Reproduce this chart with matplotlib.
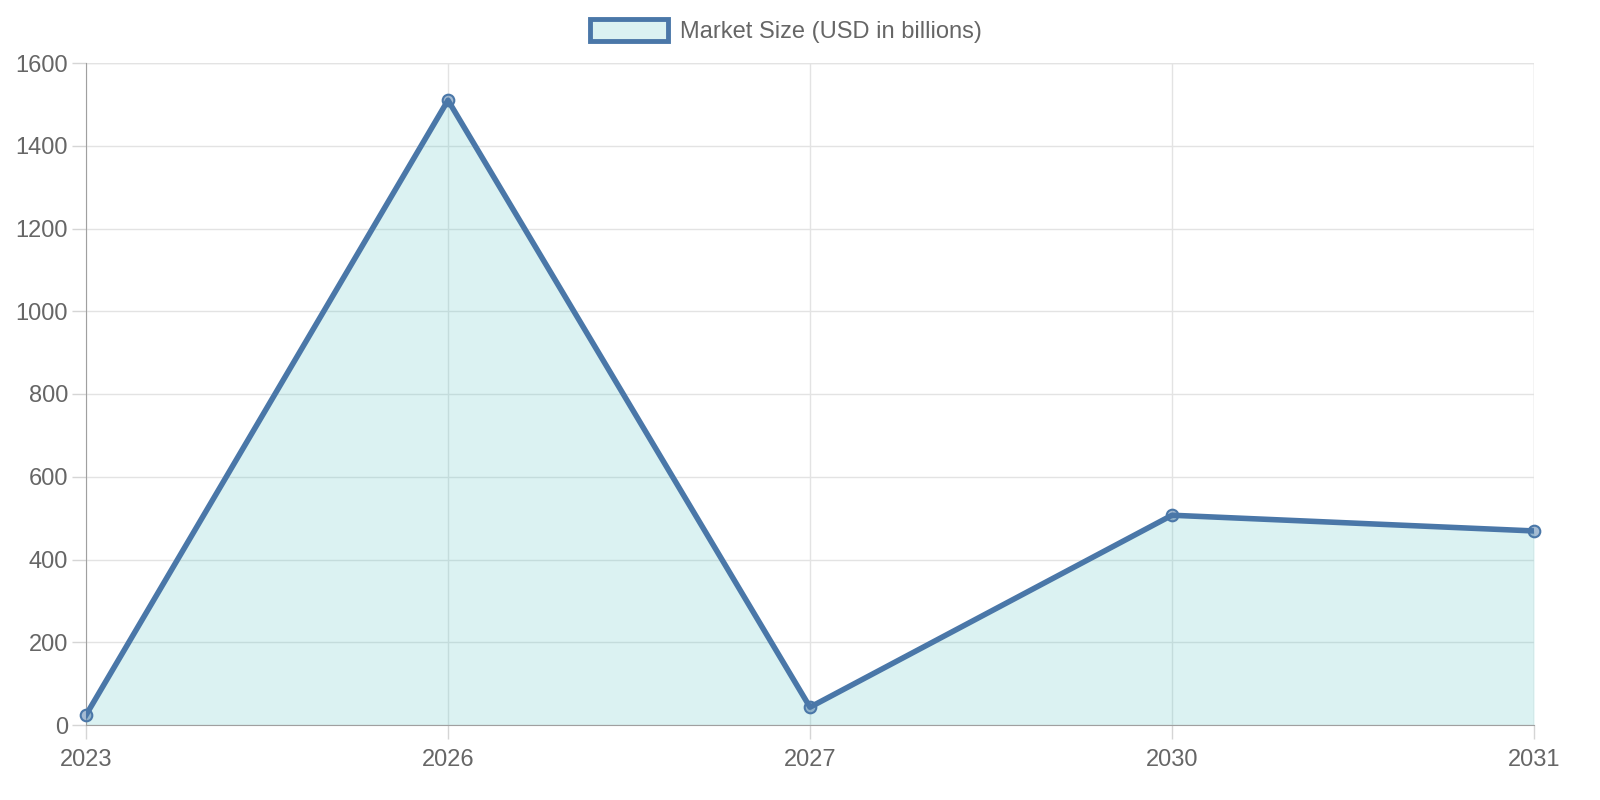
import numpy as np
import matplotlib.pyplot as plt
from matplotlib.patches import Patch

years = ['2023', '2026', '2027', '2030', '2031']
market_size = [24, 1510, 43, 507, 469]

line_col = '#4a77a8'
fill_col = (75/255, 192/255, 192/255, 0.2)
text_col = '#666666'
grid_col = '#e3e3e3'

plt.rcParams['font.family'] = ['Liberation Sans', 'DejaVu Sans']

fig = plt.figure(figsize=(16, 8), dpi=100)
ax = fig.add_axes([0.05375, 0.09375, 0.905, 0.8275])

x = np.arange(len(years))
ax.fill_between(x, market_size, 0, color=fill_col, lw=0, zorder=2)
ax.plot(x, market_size, color=line_col, lw=4, zorder=3)
ax.scatter(x, market_size, s=70, facecolor=(0.29, 0.47, 0.66, 0.5),
           edgecolor=line_col, lw=1.5, zorder=4, clip_on=False)

ax.set_xlim(0, len(years) - 1)
ax.set_ylim(0, 1600)
ax.set_xticks(x)
ax.set_xticklabels(years)
ax.set_yticks(np.arange(0, 1601, 200))

ax.grid(True, color=grid_col, lw=1, zorder=0)
ax.set_axisbelow(True)
for s in ['top', 'right']:
    ax.spines[s].set_visible(False)
ax.spines['left'].set_color('#a0a0a0')
ax.spines['bottom'].set_color('#a0a0a0')
ax.tick_params(axis='both', colors='#d5d5d5', length=10, width=1,
               labelcolor=text_col, labelsize=17, pad=3)
ax.tick_params(axis='x', pad=7)

# right and top edge grid lines
ax.axvline(len(years) - 1, color=grid_col, lw=1, zorder=0)
ax.axhline(1600, color=grid_col, lw=1, zorder=0)

handle = Patch(facecolor='#dbf2f2', edgecolor=line_col, lw=3.5)
fig.legend(handles=[handle], labels=['Market Size (USD in billions)'],
           loc='center', bbox_to_anchor=(0.491, 0.961), frameon=False,
           fontsize=17, labelcolor=text_col, handlelength=3.3, handleheight=1.0,
           handletextpad=0.5)

fig.savefig('out.png', dpi=100)
